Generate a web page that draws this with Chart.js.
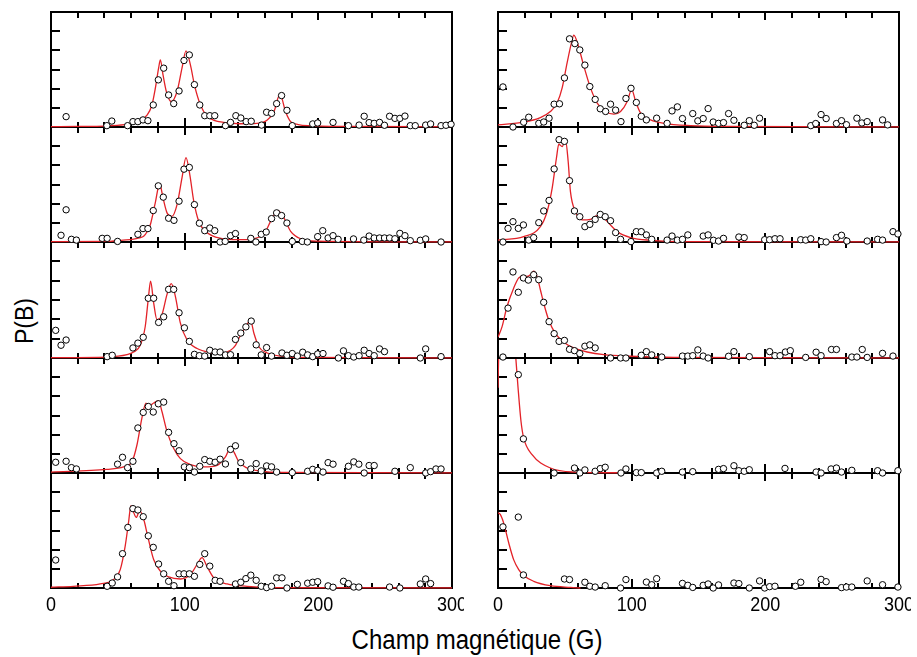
<!DOCTYPE html>
<html>
<head>
<meta charset="utf-8">
<title>P(B)</title>
<script src="https://cdn.jsdelivr.net/npm/chart.js@4.4.1/dist/chart.umd.min.js"></script>
<style>
  body { margin: 0; background: #fff; }
  #wrap { position: relative; width: 917px; height: 657px; overflow: hidden; font-family: "Liberation Sans", Arial, sans-serif; color: #000; }
  #wrap canvas { position: absolute; }
  .lbl { position: absolute; white-space: nowrap; line-height: 1; }
  #xtitle { left: 477px; top: 640px; font-size: 24px; transform: translate(-50%, -50%) scaleY(1.15); }
  #ytitle { left: 24px; top: 321px; font-size: 23px; transform: translate(-50%, -50%) rotate(-90deg) scaleY(1.15); }
</style>
</head>
<body>
<div id="wrap">
  <div class="lbl" id="ytitle">P(B)</div>
  <div class="lbl" id="xtitle">Champ magnétique (G)</div>
</div>
<script>
// axis setup
const xRange = [0, 300];
const yRange = [0, 6];
const xTicks = [20, 40, 60, 80, 100, 120, 140, 160, 180, 200, 220, 240, 260, 280];
const xMajor = [100, 200];
const yTicks = [1, 2, 3, 4, 5];
const xTickLabels = ['0', '100', '200', '300'];

// measured histograms [B, P] -- left column, top to bottom
const ptsL1 = [[11.3,0.54],[41.8,0.07],[45.5,0.31],[57.3,0.07],[61.3,0.28],[65,0.28],[68.8,0.37],[72.5,0.33],[76.5,1.15],[80.3,2.46],[84.3,3.07],[88,1.67],[91.8,1.22],[95.8,1.88],[99.5,3.47],[103.5,3.76],[107.3,2.21],[111.3,1.15],[115,0.59],[118.8,0.59],[122.5,0.59],[130.5,0.07],[134.3,0.24],[138.3,0.59],[142,0.47],[146,0.28],[149.8,0.3],[157.5,0.1],[161.3,0.77],[165,0.71],[168.8,1.22],[172.5,1.64],[176.5,0.87],[180.5,0.07],[195.8,0.16],[199.5,0.21],[211,0.24],[222.5,0.07],[230.5,0.1],[234.3,0.56],[238,0.23],[241.8,0.19],[245.8,0.24],[249.5,0.09],[253.3,0.56],[257.3,0.45],[261,0.45],[264.8,0.57],[268.8,0.07],[272.5,0.07],[280.3,0.1],[284,0.16],[291.8,0.07],[295.5,0.09],[299.3,0.14]];
const ptsL2 = [[7.5,0.35],[11.3,1.68],[15.3,0.14],[19,0.1],[38.3,0.19],[42,0.19],[49.8,0.03],[65,0.4],[68.8,0.7],[72.5,0.7],[76.5,1.64],[80.3,2.93],[84,2.34],[88,1.24],[92,1.13],[95.8,2.13],[99.5,3.8],[103.5,3.89],[107.3,1.95],[111,0.98],[115,0.59],[118.8,0.73],[122.5,0.59],[126.5,0],[130.3,0.03],[134.3,0.33],[138,0.44],[149.5,0.19],[153.3,0],[157.3,0.4],[161,0.52],[165,1.22],[168.8,1.52],[172.5,1.38],[176.5,0.99],[180.5,0.03],[188,0.03],[191.8,0],[199.5,0.28],[203.3,0.59],[207.3,0.21],[211,0.33],[214.8,0.14],[226.3,0.16],[234,0.1],[238,0.31],[241.8,0.21],[245.8,0.21],[249.5,0.21],[253.3,0.21],[257.3,0.17],[261,0.45],[264.8,0.33],[268.8,0.07],[276.3,0.09],[280.3,0.16],[291.8,0]];
const ptsL3 = [[3.5,1.43],[7.5,0.66],[11.3,0.93],[42,0.07],[45.8,0.14],[61.3,0.52],[65,0.77],[69,1.07],[72.8,3.09],[76.8,3.09],[80.5,1.84],[84.3,2.13],[88,3.55],[91.8,3.55],[95.8,2.34],[99.8,1.56],[103.5,0.86],[107.3,0.19],[111,0.12],[115,0.1],[118.8,0.4],[122.8,0.31],[126.5,0.31],[130.5,0.16],[134.3,0.17],[138,0.96],[142,1.29],[145.8,1.61],[149.8,1.91],[153.5,0.68],[157.3,0.16],[161.3,0.54],[165,0.1],[172.8,0.26],[176.5,0.14],[180.5,0.23],[184.3,0.1],[188.3,0.3],[192,0.16],[195.8,0.07],[199.5,0.21],[203.5,0.23],[215,0],[218.8,0.37],[222.5,0.12],[226.5,0.05],[230.5,0.12],[234.3,0.4],[238,0.23],[241.8,0.12],[245.8,0.47],[249.5,0.33],[276.3,0],[280.3,0.47],[291.8,0.07]];
const ptsL4 = [[3.5,0.56],[11.3,0.61],[15.3,0.28],[19,0.21],[49.8,0.46],[53.5,0.82],[57.3,0.28],[61.3,0.61],[65,2.35],[69,3.16],[72.8,3.47],[76.5,3.18],[80.3,3.61],[84.3,3.7],[88,2.12],[92,1.53],[95.8,1.16],[99.8,0.32],[103.5,0.28],[107.3,0.05],[111.3,0.35],[115,0.7],[118.8,0.61],[122.8,0.56],[126.5,0.72],[130.5,0.47],[134.3,1.23],[138,1.42],[142,0.54],[149.5,0.21],[153.5,0.49],[157.3,0.11],[161.3,0.37],[165,0.32],[168.8,0.05],[180.5,0.02],[192,0.09],[195.8,0.19],[199.5,0.14],[203.5,0.05],[207.3,0.54],[211,0.46],[222.5,0.35],[226.5,0.58],[230.3,0.46],[234.3,0],[238,0.39],[241.8,0.39],[257.3,0.09],[268.8,0.28],[280.3,0],[284,0.07],[288,0.21],[291.8,0.21]];
const ptsL5 = [[3.5,1.46],[42,0.09],[45.8,0.26],[49.8,0.58],[53.5,1.79],[57.5,3.16],[61.3,4.14],[65,4.07],[69,3.72],[72.8,2.72],[76.5,2.12],[80.5,1.25],[84.3,0.74],[88,0.35],[92,0.12],[95.8,0.74],[99.5,0.74],[103.5,0.74],[107.3,0.61],[111.3,1.23],[115,1.79],[118.8,1.14],[122.8,0.4],[126.5,0.35],[138,0.21],[142,0.3],[145.8,0.49],[149.5,0.67],[153.5,0.4],[157.3,0.09],[161.3,0.02],[165,0.09],[168.8,0.53],[172.8,0.53],[176.5,0],[184.3,0.19],[192,0.25],[195.8,0.3],[199.5,0.33],[207.3,0.11],[211,0.04],[218.8,0.35],[222.5,0.23],[226.5,0.05],[230.3,0.05],[253.3,0.05],[261,0],[276.3,0.21],[280.3,0.47],[284,0.23]];

// right column, top to bottom
const ptsR1 = [[3.7,2.09],[11.2,0],[19.2,0.25],[23,0.51],[30.5,0.19],[34.2,0.26],[38.2,0.46],[42,1.19],[46,1.21],[49.7,2.56],[53.5,4.6],[57.5,4.35],[61.2,4.02],[65,3.23],[68.7,2.11],[72.7,1.44],[76.5,0.95],[80.5,0.81],[84.2,1.19],[88,0.88],[92,0.28],[95.7,1.49],[99.5,2.02],[103.5,1.28],[107.2,0.56],[111,0.37],[118.7,0.46],[126.5,0.19],[130.2,0.84],[134.2,1.05],[138,0.44],[145.7,0.7],[149.5,0.32],[153.5,0.44],[157.2,0.96],[161,0.26],[165,0.19],[168.7,0.23],[172.5,0.7],[176.5,0.35],[184.2,0.09],[188,0.33],[191.7,0.09],[195.7,0.46],[234,0.07],[237.7,0.18],[241.7,0.65],[245.5,0.44],[253.2,0.18],[257,0.33],[260.7,0.12],[268.5,0.46],[272.2,0.21],[276.2,0.28],[287.7,0.37],[291.5,0.11]];
const ptsR2 = [[3.7,0],[7.5,0.71],[11.2,1.06],[15.2,0.71],[19,0.89],[23,0.1],[26.7,0.23],[30.5,1.01],[34.2,1.62],[38.2,2.17],[42,3.81],[45.7,5.34],[49.7,5.25],[53.5,3.2],[57.2,1.62],[61.2,1.32],[65,0.8],[68.7,0.92],[72.7,1.18],[76.5,1.44],[80.2,1.32],[84.2,1.11],[88,0.49],[91.7,0.14],[99.5,0.02],[103.5,0.54],[107.2,0.54],[111,0.37],[115,0.14],[126.5,0.1],[130.2,0.31],[134.2,0.1],[138,0.14],[142,0.37],[153.5,0.31],[157.2,0.37],[161.2,0.09],[165,0.05],[168.7,0.19],[180.2,0.26],[184.2,0.23],[199.5,0.12],[203.2,0.12],[207.2,0.17],[211,0.17],[226.5,0.12],[230.2,0.1],[234,0.17],[241.7,0.02],[245.5,0],[253.2,0.23],[257,0.35],[261,0.05],[276.2,0.05],[284,0.14],[287.7,0.1],[295.5,0.54],[299.2,0.42]];
const ptsR3 = [[3.7,0.05],[7.5,2.58],[11.2,4.45],[15.2,3.4],[19,4.14],[22.7,4.03],[26.7,4.31],[30.5,4.05],[34.2,2.88],[38.2,1.88],[42,1.26],[45.7,0.86],[49.7,0.91],[53.5,0.45],[57.2,0.38],[61.2,0.23],[65,0.61],[68.7,0.68],[72.7,0.52],[84.2,0],[91.7,0],[95.7,0],[107.2,0.14],[111,0.33],[115,0.16],[122.5,0.05],[138,0.1],[142,0.1],[145.7,0.12],[149.5,0.42],[153.5,0.1],[157.2,0],[172.5,0.09],[176.5,0.33],[188,0.07],[203.2,0.33],[207.2,0.12],[211,0.12],[215,0.31],[218.7,0.38],[230.2,0.03],[238,0.3],[241.7,0.12],[249.5,0.44],[253.2,0.44],[264.7,0.05],[268.5,0.05],[272.5,0.44],[276.2,0.03],[287.7,0.24],[295.5,0.1]];
const ptsR4 = [[15.2,5.13],[19,1.78],[42,0],[57.2,0.26],[61.2,0],[65,0.16],[72.7,0.09],[76.5,0.23],[80.2,0.3],[92,0],[95.7,0.21],[103.5,0.02],[107.2,0.02],[118.7,0],[122.5,0.09],[138,0.05],[145.7,0.07],[165,0.19],[168.7,0.23],[176.5,0.38],[180.2,0.12],[184.2,0.09],[188,0.17],[214.7,0.24],[238,0.05],[241.7,0],[249.2,0.21],[253.2,0.26],[257,0.05],[264.7,0.14],[284,0.12],[287.7,0],[299.2,0.12]];
const ptsR5 = [[3.7,3.19],[15.2,3.7],[19,0.68],[49.7,0.47],[53.5,0.44],[65,0.3],[68.7,0.09],[72.7,0.05],[80.2,0.12],[91.7,0],[95.7,0.44],[111,0.31],[115,0.17],[118.7,0.49],[138,0.24],[142,0.14],[145.7,0.03],[153.5,0.14],[157.2,0.21],[161,0],[165,0.16],[176.5,0.26],[180.2,0.23],[188,0],[195.7,0.37],[199.5,0],[203.2,0.07],[207.2,0.09],[222.5,0.09],[226.5,0.3],[241.7,0.45],[245.5,0.33],[257,0.02],[260.7,0.05],[264.7,0.05],[276.2,0.37],[287.7,0.17],[299.2,0.05]];

// fitted curves, sampled along the drawn line
const fitL1 = [[0,0.02],[20,0.03],[40,0.05],[55,0.12],[62,0.22],[67,0.37],[72,0.63],[75.5,1.15],[78,2.0],[80.5,3.07],[81.8,3.5],[83.8,2.72],[86.3,1.85],[90,1.32],[94.3,1.85],[98,3.07],[101,3.97],[104.3,3.24],[107.3,2.2],[111.8,1.15],[116.8,0.57],[122,0.35],[129,0.24],[141.8,0.17],[154,0.19],[161.8,0.37],[166.8,0.8],[171.3,1.71],[175.5,0.8],[179.3,0.28],[185,0.13],[192,0.07],[220,0.03],[300,0.02]];
const fitL2 = [[0,0.02],[40,0.03],[54,0.1],[61.8,0.15],[66,0.22],[69.3,0.3],[72,0.55],[74.3,0.9],[78,2.04],[81.3,3.04],[83.8,2.3],[86.8,1.52],[90.5,1.34],[94.3,1.95],[98,3.35],[101,4.4],[103.8,3.53],[106.8,2.13],[110.5,1.08],[115.5,0.56],[124,0.24],[136,0.12],[146,0.12],[152,0.17],[156.8,0.3],[160.5,0.55],[164.3,1.08],[169.8,1.64],[174.3,1.26],[179.3,0.56],[186.8,0.17],[199,0.05],[300,0.01]];
const fitL3 = [[0,0.02],[41.8,0.05],[56.8,0.17],[61.8,0.31],[66.8,0.66],[70.5,1.63],[73,3.2],[74.5,3.97],[76.8,2.85],[79.3,1.98],[83,2.24],[86.8,3.29],[90,3.85],[93,3.2],[96.8,1.8],[101.8,0.93],[109.3,0.49],[119.3,0.28],[126.8,0.23],[134.3,0.4],[138,0.65],[140.5,1.01],[145.5,1.59],[149.3,1.94],[151.8,1.28],[155.5,0.58],[161.8,0.26],[171.8,0.1],[191.8,0.03],[300,0.01]];
const fitL4 = [[0,0.05],[41.8,0.19],[54.3,0.32],[60.5,0.58],[64.3,1.46],[68,2.86],[71,3.65],[73,3.47],[75,3.56],[76.8,3.65],[80.5,3.77],[83,3.21],[86.8,2.16],[91.8,1.28],[96.8,0.75],[104.3,0.44],[114.3,0.32],[124.3,0.4],[130.5,0.84],[134.3,1.32],[136.8,1.1],[140.5,0.58],[146.8,0.26],[156.8,0.1],[171.8,0.03],[300,0.01]];
const fitL5 = [[0,0.04],[16.8,0.09],[36.8,0.21],[46.8,0.44],[51.8,0.96],[55.5,2.19],[58,3.42],[59.8,4.3],[61.8,3.95],[63.8,3.68],[66.3,4.04],[69.3,3.6],[72.3,2.72],[76.8,1.49],[81.8,0.88],[88,0.58],[96.8,0.47],[104.3,0.7],[109.3,1.23],[113,1.58],[116.8,1.11],[121.8,0.53],[131.8,0.21],[146.8,0.09],[166.8,0.02],[300,0.01]];
const fitR1 = [[0,0.11],[19.2,0.25],[31.7,0.49],[39.2,0.81],[44.2,1.25],[48,2.04],[51.7,3.35],[55,4.4],[56.7,4.79],[59.7,4.32],[64.2,3.18],[69.2,2.04],[74.2,1.25],[80.5,0.81],[86.7,0.67],[91.7,0.81],[96.7,1.33],[100,1.95],[103,1.33],[106.7,0.72],[114.2,0.37],[124.2,0.19],[144.2,0.07],[169.2,0.03],[300,0.01]];
const fitR2 = [[0,0.1],[19.2,0.28],[31.7,0.8],[36.7,1.58],[40.5,2.8],[43.7,4.37],[45.5,5.1],[48,4.98],[50.5,5.32],[52.5,4.2],[54.2,2.63],[58,1.58],[63,1.15],[69.2,1.18],[74.2,1.37],[78,1.32],[83,0.97],[89.2,0.54],[99.2,0.23],[114.2,0.09],[144.2,0.02],[300,0.01]];
const fitR3 = [[0,1.08],[3,1.61],[6.7,2.65],[11.7,3.61],[15.5,4.14],[19.2,4.26],[21.7,4.22],[24.2,4.31],[26.7,4.49],[29.2,4.22],[31.7,3.53],[34.2,2.83],[38,1.95],[43,1.26],[49.2,0.82],[56.7,0.52],[66.7,0.31],[79.2,0.17],[99.2,0.09],[131.7,0.03],[300,0.01]];
const fitR4 = [[0,4.45],[0.5,6.2],[2,9],[7,12],[11,8.5],[13.3,6.02],[15,4.45],[17.2,2.7],[19.2,1.83],[25.5,0.96],[39.2,0.26],[56.7,0.05],[94.2,0.01]];
const fitR5 = [[0,3.93],[1.7,3.84],[4.2,3.4],[8,2.36],[11.7,1.48],[15.5,0.96],[19.2,0.65],[26.7,0.35],[39.2,0.12],[54.2,0.03],[61.7,0]];

const panels = [
  [ptsL1, fitL1], [ptsL2, fitL2], [ptsL3, fitL3], [ptsL4, fitL4], [ptsL5, fitL5],
  [ptsR1, fitR1], [ptsR2, fitR2], [ptsR3, fitR3], [ptsR4, fitR4], [ptsR5, fitR5]
];

// plot rectangles on the page
const colLeft = [51, 498];
const plotW = 401;
const rowTop = [12, 127, 242, 358, 473, 588];
const PAD = 12;
const LABEL_ROOM = 44;

const toXY = arr => arr.map(([x, y]) => ({ x, y }));

const framePlugin = {
  id: 'frame',
  beforeDatasetsDraw(chart) {
    const { ctx, chartArea: a, scales: { x, y } } = chart;
    ctx.save();
    ctx.strokeStyle = '#000';
    ctx.lineWidth = 2;
    ctx.strokeRect(a.left, a.top, a.right - a.left, a.bottom - a.top);
    ctx.beginPath();
    xTicks.forEach(v => {
      const px = Math.round(x.getPixelForValue(v));
      const big = xMajor.includes(v);
      ctx.moveTo(px, a.top);
      ctx.lineTo(px, a.top + (big ? 8 : 6));
      ctx.moveTo(px, a.bottom);
      ctx.lineTo(px, a.bottom - (big ? 9 : 5));
    });
    yTicks.forEach(v => {
      const py = Math.round(y.getPixelForValue(v));
      ctx.moveTo(a.left, py);
      ctx.lineTo(a.left + 9, py);
    });
    ctx.stroke();
    ctx.restore();
  },
  afterDraw(chart, args, opts) {
    if (!opts.labels) return;
    const { ctx, chartArea: a, scales: { x } } = chart;
    ctx.save();
    ctx.fillStyle = '#000';
    ctx.font = '18px "Liberation Sans", Arial, sans-serif';
    ctx.textAlign = 'center';
    ctx.textBaseline = 'middle';
    xTickLabels.forEach(t => {
      ctx.save();
      ctx.translate(x.getPixelForValue(Number(t)), a.bottom + 17);
      ctx.scale(1, 1.15);
      ctx.fillText(t, 0, 0);
      ctx.restore();
    });
    ctx.restore();
  }
};

const wrap = document.getElementById('wrap');

panels.forEach(([pts, fit], i) => {
  const col = Math.floor(i / 5);
  const row = i % 5;
  const last = row === 4;
  const h = rowTop[row + 1] - rowTop[row];
  const bottomPad = last ? LABEL_ROOM : PAD;

  const canvas = document.createElement('canvas');
  canvas.width = plotW + 2 * PAD;
  canvas.height = h + PAD + bottomPad;
  canvas.style.left = (colLeft[col] - PAD) + 'px';
  canvas.style.top = (rowTop[row] - PAD) + 'px';
  canvas.style.zIndex = 10 - row;
  wrap.appendChild(canvas);

  new Chart(canvas, {
    type: 'scatter',
    data: {
      datasets: [
        {
          data: toXY(pts),
          pointRadius: 3.2,
          pointBackgroundColor: '#fff',
          pointBorderColor: '#000',
          pointBorderWidth: 1,
          showLine: false,
          clip: false
        },
        {
          data: toXY(fit),
          showLine: true,
          borderColor: '#e32228',
          borderWidth: 1.3,
          pointRadius: 0,
          cubicInterpolationMode: 'monotone',
          fill: false,
          clip: { left: 0, top: 0, right: 0, bottom: 2 }
        }
      ]
    },
    options: {
      responsive: false,
      animation: false,
      events: [],
      layout: { padding: { left: PAD, right: PAD, top: PAD, bottom: bottomPad } },
      scales: {
        x: { type: 'linear', min: xRange[0], max: xRange[1], display: false },
        y: { type: 'linear', min: yRange[0], max: yRange[1], display: false }
      },
      plugins: {
        legend: { display: false },
        tooltip: { enabled: false },
        frame: { labels: last }
      }
    },
    plugins: [framePlugin]
  });
});
</script>
</body>
</html>
